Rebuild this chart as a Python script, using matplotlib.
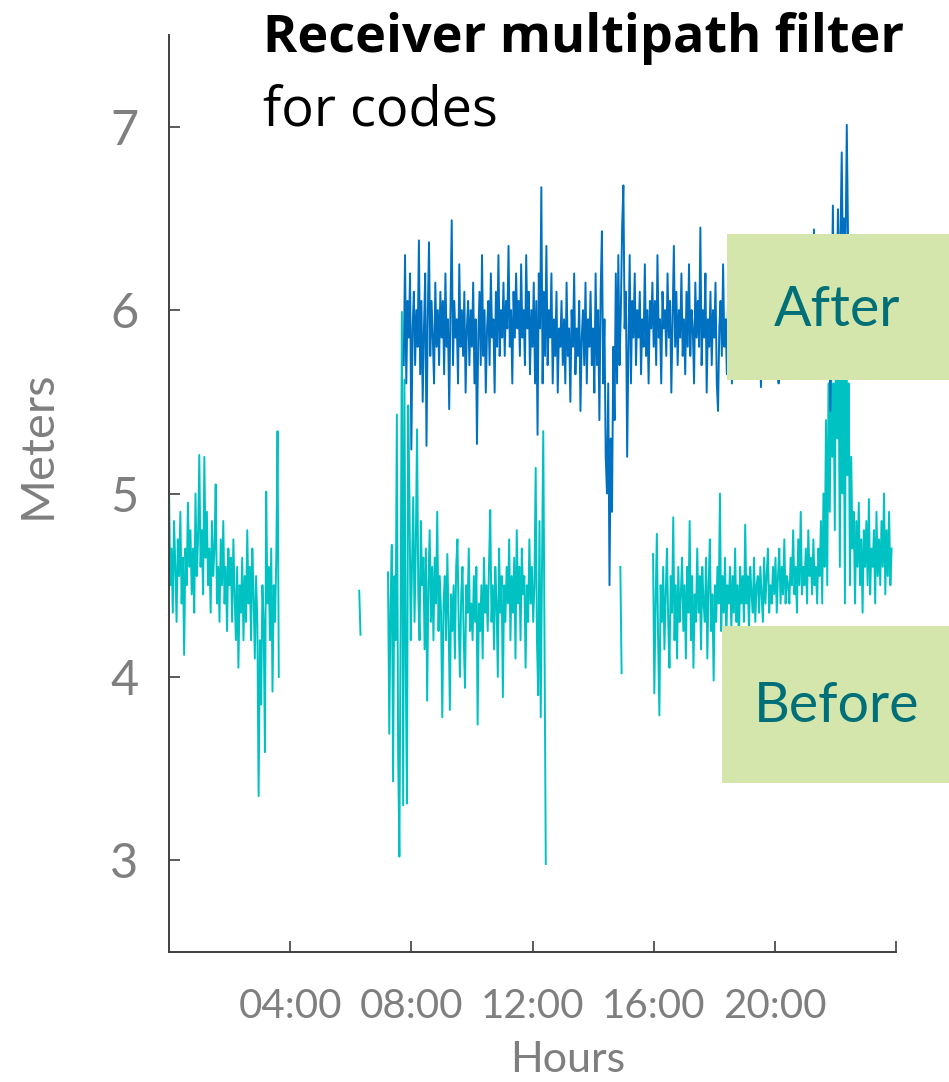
import numpy as np
import matplotlib
matplotlib.use("Agg")
import matplotlib.pyplot as plt
from matplotlib.patches import Rectangle

# ---------------- data (metres, sampled every 1/24 h = 2.5 min) ----------------
after_start = 7.75
after_vals = [
    5.7, 6.3, 5.6, 6.05, 5.85, 6.2,
    5.24, 5.9, 6.1, 5.7, 6.0, 5.8, 6.38, 5.65, 6.05, 5.5, 5.9, 6.2,
    5.26, 5.95, 6.37, 5.75, 6.05, 5.85, 5.6, 6.15, 5.8, 6.0, 5.7, 6.1,
    5.85, 6.05, 5.65, 6.2, 5.8, 5.95, 5.46, 6.0, 6.49, 5.7, 6.05, 5.85,
    5.95, 5.6, 6.25, 5.8, 6.0, 5.75, 6.1, 5.55, 5.9, 6.05, 5.7, 6.0,
    5.8, 6.15, 5.6, 5.95, 5.27, 5.85, 6.1, 5.7, 6.3, 5.75, 6.0, 5.55,
    5.9, 6.05, 5.7, 6.2, 5.85, 5.95, 5.55, 6.1, 5.8, 6.3, 5.75, 6.0,
    5.85, 6.15, 5.75, 6.05, 5.9, 6.35, 5.8, 6.0, 5.6, 6.1, 5.85, 6.2,
    5.9, 6.05, 5.75, 6.25, 5.85, 6.0, 5.7, 6.3, 5.9, 6.1, 5.65, 6.0,
    5.8, 6.15, 5.6, 6.05, 5.32, 6.2, 5.9, 6.67, 5.6, 6.1, 5.75, 6.35,
    5.7, 6.0, 5.85, 6.2, 5.6, 5.95, 5.75, 6.1, 5.55, 5.9, 5.8, 6.05,
    5.7, 5.95, 5.6, 6.15, 5.75, 5.9, 5.5, 6.0, 5.8, 6.2, 5.65, 5.9,
    5.75, 6.05, 5.45, 5.85, 6.0, 5.7, 6.15, 5.6, 5.95, 5.8, 6.1, 5.7,
    5.9, 5.55, 6.2, 5.7, 6.0, 5.4, 6.1, 6.43, 5.6, 5.95, 5.2, 5.0,
    5.6, 4.5, 5.3, 4.9, 5.8, 5.4, 6.2, 5.6, 6.3, 5.7, 6.0, 6.45,
    6.68, 5.9, 6.1, 5.2, 5.8, 6.3, 5.6, 6.05, 5.85, 6.2, 5.7, 6.0,
    5.85, 6.1, 5.65, 5.95, 5.8, 6.25, 5.75, 6.0, 5.6, 6.05, 5.9, 6.15,
    5.8, 6.05, 5.7, 6.3, 5.85, 5.95, 5.6, 6.1, 5.9, 6.0, 5.75, 6.2,
    5.85, 6.05, 5.55, 5.95, 6.35, 5.8, 6.1, 5.7, 6.0, 5.85, 6.2, 5.75,
    5.95, 5.65, 6.1, 5.8, 6.25, 5.75, 6.0, 5.9, 5.6, 6.15, 5.85, 6.05,
    5.8, 6.45, 5.7, 6.0, 5.85, 6.2, 5.55, 5.95, 5.8, 6.1, 5.7, 6.0,
    5.85, 6.15, 5.6, 5.45, 5.9, 6.05, 5.75, 6.25, 5.8, 5.95, 5.65, 6.1,
    5.8, 6.0, 5.6, 6.2, 5.85, 5.95, 5.7, 6.1, 5.8, 6.05, 5.75, 6.15,
    5.9, 6.0, 5.7, 6.2, 5.8, 6.05, 5.75, 5.95, 5.85, 6.1, 5.7, 6.0,
    5.85, 5.58, 6.05, 5.8, 6.15, 5.75, 6.0, 5.9, 5.7, 6.1, 5.85, 6.0,
    5.8, 6.1, 5.75, 5.6, 6.0, 5.85, 6.2, 5.8, 5.95, 5.75, 6.1, 5.9,
    5.85, 6.15, 5.7, 6.0, 5.9, 6.25, 5.8, 6.05, 5.75, 6.1, 5.95, 6.2,
    5.9, 6.1, 5.8, 6.3, 5.85, 6.0, 5.95, 6.44, 5.8, 6.15, 5.9, 6.05,
    6.0, 5.85, 6.25, 5.9, 6.1, 5.8, 6.35, 5.95, 5.45, 6.0, 6.57, 5.9,
    6.3, 6.0, 6.55, 6.1, 6.4, 6.86, 6.2, 6.5, 6.3, 7.01, 6.4, 6.2,
]

before_a_start = 0.0
before_a_vals = [
    5.03, 4.5, 4.7, 4.35, 4.85, 4.6, 4.3, 4.75, 4.55, 4.9, 4.4, 4.65,
    4.12, 4.7, 4.5, 4.95, 4.6, 4.8, 4.45, 4.7, 4.35, 5.0, 4.55, 4.75,
    5.21, 4.6, 4.8, 4.45, 5.2, 4.65, 4.9, 4.5, 4.7, 4.35, 4.85, 4.55,
    4.7, 5.05, 4.4, 4.6, 4.3, 4.75, 4.5, 4.85, 4.4, 4.6, 4.25, 4.7,
    4.5, 4.65, 4.3, 4.75, 4.45, 4.2, 4.6, 4.05, 4.5, 4.35, 4.65, 4.2,
    4.55, 4.3, 4.8, 4.4, 4.6, 4.2, 4.7, 4.45, 4.1, 4.55, 4.3, 3.35,
    4.2, 3.85, 4.5, 4.3, 3.59, 5.01, 4.4, 4.6, 4.2, 4.7, 3.92, 4.5,
    4.3, 4.65, 5.34, 4.0,
]

before_b_start = 6.28
before_b_vals = [4.47, 4.23]

before_c_start = 7.23
before_c_vals = [
    4.57, 3.69, 4.4, 4.72, 3.43, 4.55, 4.2,
    5.43, 3.6, 3.02, 4.3, 5.99, 3.3, 5.62, 4.1, 3.31, 5.48, 4.98, 4.2,
    4.6, 4.98, 4.3, 4.7, 5.35, 4.45, 4.2, 4.85, 4.5, 4.65, 4.15, 4.7,
    3.87, 4.5, 4.8, 4.3, 4.6, 4.2, 4.65, 4.4, 4.9, 4.25, 4.55, 4.35,
    3.78, 4.4, 4.55, 4.2, 4.67, 4.3, 3.82, 4.45, 4.25, 4.5, 4.1, 4.6,
    4.75, 4.3, 4.0, 4.45, 4.6, 4.2, 3.94, 4.5, 4.35, 4.7, 4.25, 4.4,
    4.2, 4.55, 4.3, 4.6, 3.74, 4.4, 4.25, 4.5, 4.1, 4.65, 4.35, 4.5,
    4.25, 4.6, 4.91, 4.3, 4.5, 4.15, 4.6, 4.4, 4.0, 4.7, 4.35, 4.55,
    3.89, 4.5, 4.3, 4.6, 4.4, 4.75, 4.2, 4.55, 4.35, 4.65, 4.1, 4.8,
    4.4, 4.6, 4.2, 4.7, 4.45, 4.55, 4.05, 4.5, 4.3, 4.75, 4.4, 4.6,
    4.3, 4.5, 5.14, 4.2, 3.9, 4.85, 3.78, 4.6, 5.34, 4.2, 2.98,
]

before_d_start = 14.9
before_d_vals = [4.6, 4.02]

before_e_start = 15.98
before_e_vals = [
    4.67, 3.91, 4.4, 4.78, 4.2, 3.79, 4.5, 4.3, 4.6, 4.15, 4.45, 4.7,
    4.3, 4.05, 4.55, 4.35, 4.87, 4.2, 4.5, 4.1, 4.6, 4.3, 4.45, 4.65,
    4.25, 4.5, 4.1, 4.6, 4.35, 4.85, 4.2, 4.55, 4.05, 4.45, 4.3, 4.7,
    4.35, 4.55, 4.15, 4.6, 4.4, 4.3, 4.65, 4.1, 4.5, 4.75, 4.25, 4.45,
    3.98, 4.5, 4.3, 4.6, 4.4, 5.0, 4.25, 4.55, 4.35, 4.65, 4.2, 4.5,
    4.4, 4.6, 4.25, 4.55, 4.35, 4.7, 4.3, 4.5, 4.15, 4.6, 4.4, 4.55,
    4.3, 4.83, 4.4, 4.55, 4.25, 4.6, 4.45, 4.35, 4.65, 4.3, 4.5, 4.55,
    4.35, 4.6, 4.45, 4.3, 4.65, 4.4, 4.55, 4.7, 4.35, 4.5, 4.4, 4.6,
    4.45, 4.65, 4.35, 4.55, 4.7, 4.4, 4.6, 4.45, 4.75, 4.4, 4.55, 4.5,
    4.4, 4.65, 4.5, 4.8, 4.45, 4.6, 4.35, 4.75, 4.5, 4.9, 4.45, 4.6,
    4.5, 4.7, 4.4, 4.8, 4.55, 4.65, 4.45, 4.75, 4.5, 4.6, 4.4, 4.7,
    4.55, 4.85, 4.4, 5.0, 4.6, 5.4, 4.5, 5.6, 4.9, 5.7, 5.2, 5.6,
    4.8, 6.0, 5.3, 5.75, 4.6, 6.5, 5.0, 5.8, 4.4, 6.2, 5.1, 5.6,
    4.5, 5.2, 4.7, 4.9, 4.4, 4.85, 4.6, 4.95, 4.5, 4.75, 4.35, 4.8,
    4.6, 4.85, 4.5, 4.97, 4.45, 4.7, 4.6, 4.8, 4.4, 4.9, 4.55, 4.75,
    4.5, 4.85, 4.6, 5.0, 4.45, 4.8, 4.55, 4.9, 4.5, 4.7,
]

x_ticks = [4, 8, 12, 16, 20, 24]
x_tick_labels = ["04:00", "08:00", "12:00", "16:00", "20:00", ""]
y_ticks = [3, 4, 5, 6, 7]

SAMPLES_PER_HOUR = 24

def times(start, vals):
    return start + np.arange(len(vals)) / SAMPLES_PER_HOUR

# ---------------- figure ----------------
W, H = 949, 1082
fig = plt.figure(figsize=(W / 100, H / 100), dpi=100)
ax = fig.add_axes([169 / W, 1 - 952 / H, (896 - 169) / W, (952 - 35) / H])

teal = "#00c2c2"
blue = "#0070c0"
lw = 1.4

for st, v in [(before_a_start, before_a_vals), (before_b_start, before_b_vals),
              (before_c_start, before_c_vals), (before_d_start, before_d_vals),
              (before_e_start, before_e_vals)]:
    ax.plot(times(st, v), v, color=teal, lw=lw)
ax.plot(times(after_start, after_vals), after_vals, color=blue, lw=lw)

ax.set_xlim(0, 24)
ax.set_ylim(2.5, 7.5)
for s in ["top", "right"]:
    ax.spines[s].set_visible(False)
for s in ["left", "bottom"]:
    ax.spines[s].set_color("#404040")
    ax.spines[s].set_linewidth(1.4)

tick_font = ["Lato", "DejaVu Sans"]
gray = "#7f7f7f"
ax.set_xticks(x_ticks)
ax.set_xticklabels(x_tick_labels, fontsize=29, color=gray, family=tick_font)
ax.set_yticks(y_ticks)
ax.set_yticklabels([str(t) for t in y_ticks], fontsize=35, color=gray, family=tick_font)
ax.tick_params(axis="both", direction="in", length=8, width=1.2, color="#404040")
ax.tick_params(axis="x", pad=26)
ax.tick_params(axis="y", pad=22)

fig.text(38 / W, 1 - 445 / H, "Meters", rotation=90, ha="center", va="center",
         fontsize=34, color=gray, family=tick_font)
fig.text(568 / W, 1 - 1060 / H, "Hours", ha="center", va="center",
         fontsize=31, color=gray, family=tick_font)

title_font = ["Open Sans", "DejaVu Sans"]
fig.text(263 / W, 1 - 52 / H, "Receiver multipath filter", ha="left", va="baseline",
         fontsize=37.5, fontweight="bold", color="black", family=title_font)
fig.text(263 / W, 1 - 125 / H, "for codes", ha="left", va="baseline",
         fontsize=39, color="black", family=title_font)

box_color = "#d4e6ab"
text_teal = "#006f78"
fig.add_artist(Rectangle((727 / W, 1 - 380 / H), (949 - 727) / W, 146 / H,
                         transform=fig.transFigure, facecolor=box_color, edgecolor="none", zorder=5))
fig.add_artist(Rectangle((722 / W, 1 - 783 / H), (949 - 722) / W, 157 / H,
                         transform=fig.transFigure, facecolor=box_color, edgecolor="none", zorder=5))
fig.text(837 / W, 1 - 310 / H, "After", ha="center", va="center", fontsize=40,
         color=text_teal, family=tick_font, zorder=6)
fig.text(837 / W, 1 - 707 / H, "Before", ha="center", va="center", fontsize=40,
         color=text_teal, family=tick_font, zorder=6)

fig.savefig("out.png", dpi=100)
